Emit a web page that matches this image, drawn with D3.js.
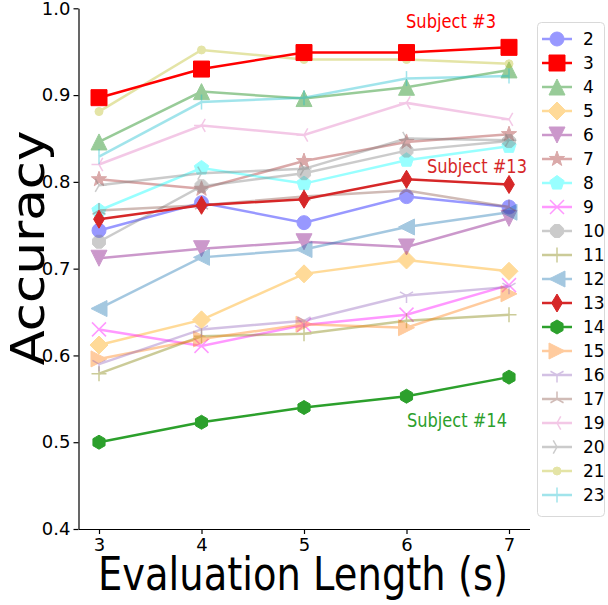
<!DOCTYPE html>
<html>
<head>
<meta charset="utf-8">
<script src="https://cdn.jsdelivr.net/npm/d3@7"></script>
<style>
  body { margin: 0; background: #fff; }
  text { font-family: "DejaVu Sans", sans-serif; }
</style>
</head>
<body>
<div id="chart"></div>
<script>
// accuracy per subject over evaluation lengths

const lengths = [3, 4, 5, 6, 7];
const subjects = ["2", "3", "4", "5", "6", "7", "8", "9", "10", "11", "12", "13", "14", "15", "16", "17", "19", "20", "21", "23"];

const accuracy = {
    "2":  [0.744, 0.776, 0.753, 0.783, 0.771],
    "3":  [0.897, 0.930, 0.949, 0.949, 0.955],
    "4":  [0.846, 0.904, 0.896, 0.909, 0.929],
    "5":  [0.612, 0.641, 0.694, 0.710, 0.697],
    "6":  [0.712, 0.723, 0.731, 0.725, 0.758],
    "7":  [0.803, 0.792, 0.824, 0.846, 0.855],
    "8":  [0.767, 0.816, 0.798, 0.825, 0.841],
    "9":  [0.630, 0.611, 0.635, 0.647, 0.681],
    "10": [0.731, 0.795, 0.810, 0.836, 0.847],
    "11": [0.579, 0.622, 0.625, 0.640, 0.647],
    "12": [0.654, 0.713, 0.722, 0.748, 0.765],
    "13": [0.757, 0.773, 0.780, 0.803, 0.797],
    "14": [0.500, 0.523, 0.540, 0.553, 0.575],
    "15": [0.596, 0.619, 0.636, 0.632, 0.671],
    "16": [0.590, 0.630, 0.640, 0.669, 0.679],
    "17": [0.767, 0.773, 0.783, 0.790, 0.771],
    "19": [0.820, 0.865, 0.854, 0.891, 0.872],
    "20": [0.796, 0.810, 0.815, 0.850, 0.848],
    "21": [0.881, 0.952, 0.941, 0.941, 0.936],
    "23": [0.829, 0.892, 0.897, 0.919, 0.922]
};

const colors = ["#0000ff", "#ff0000", "#008000", "#ffa500", "#800080", "#a52a2a", "#00ffff", "#ff00ff", "#808080", "#808000",
                "#1f77b4", "#d62728", "#2ca02c", "#ff7f0e", "#9467bd", "#8c564b", "#e377c2", "#7f7f7f", "#bcbd22", "#17becf"];
const markers = ["o", "s", "^", "D", "v", "*", "p", "x", "8", "+", "<", "d", "h", ">", "1", "2", "3", "4", ".", "|"];
const highlighted = ["3", "13", "14"];

const yTicks = [0.4, 0.5, 0.6, 0.7, 0.8, 0.9, 1.0];

const notes = [
    {text: "Subject #3", subject: "3", x: 451, y: 28, w: 90},
    {text: "Subject #13", subject: "13", x: 477, y: 173, w: 100},
    {text: "Subject #14", subject: "14", x: 457, y: 427, w: 100}
];

const width = 608, height = 605;

const svg = d3.select("#chart").append("svg")
    .attr("width", width)
    .attr("height", height);

const x = d3.scaleLinear().domain([2.8, 7.2]).range([78.5, 529.5]);
const y = d3.scaleLinear().domain([0.4, 1.0]).range([529, 8.3]);

// marker shapes, sizes in px
const markerSize = {"o": 14, "s": 16, "^": 16, "D": 18, "v": 16, "*": 16, "p": 15, "x": 14, "8": 14, "+": 15,
                    "<": 16, "d": 18, "h": 14, ">": 16, "1": 15, "2": 15, "3": 15, "4": 15, ".": 8, "|": 15};
const lineMarkers = ["x", "+", "1", "2", "3", "4", "|"];

function polygon(n, r, rot) {
    const pts = d3.range(n).map(i => {
        const a = rot + i * 2 * Math.PI / n;
        return [r * Math.sin(a), -r * Math.cos(a)];
    });
    return "M" + pts.map(p => p.join(",")).join("L") + "Z";
}

function markerPath(m) {
    const s = markerSize[m], h = s / 2;
    switch (m) {
        case "o": case ".":
            return `M${-h},0A${h},${h} 0 1,0 ${h},0A${h},${h} 0 1,0 ${-h},0Z`;
        case "s": return `M${-h},${-h}H${h}V${h}H${-h}Z`;
        case "^": return `M0,${-h}L${h},${h}L${-h},${h}Z`;
        case "v": return `M0,${h}L${h},${-h}L${-h},${-h}Z`;
        case "<": return `M${-h},0L${h},${-h}L${h},${h}Z`;
        case ">": return `M${h},0L${-h},${-h}L${-h},${h}Z`;
        case "D": return `M0,${-h}L${h},0L0,${h}L${-h},0Z`;
        case "d": return `M0,${-h}L${h * 0.6},0L0,${h}L${-h * 0.6},0Z`;
        case "p": return polygon(5, h, 0);
        case "h": return polygon(6, h, 0);
        case "8": return polygon(8, h, Math.PI / 8);
        case "*": {
            const pts = d3.range(10).map(i => {
                const r = i % 2 ? h * 0.4 : h;
                const a = i * Math.PI / 5;
                return [r * Math.sin(a), -r * Math.cos(a)];
            });
            return "M" + pts.map(p => p.join(",")).join("L") + "Z";
        }
        case "x": return `M${-h},${-h}L${h},${h}M${-h},${h}L${h},${-h}`;
        case "+": return `M${-h},0H${h}M0,${-h}V${h}`;
        case "|": return `M0,${-h}V${h}`;
        case "1": return `M0,0V${h}M0,0L${-h * 0.87},${-h * 0.5}M0,0L${h * 0.87},${-h * 0.5}`;
        case "2": return `M0,0V${-h}M0,0L${-h * 0.87},${h * 0.5}M0,0L${h * 0.87},${h * 0.5}`;
        case "3": return `M0,0H${-h}M0,0L${h * 0.5},${-h * 0.87}M0,0L${h * 0.5},${h * 0.87}`;
        case "4": return `M0,0H${h}M0,0L${-h * 0.5},${-h * 0.87}M0,0L${-h * 0.5},${h * 0.87}`;
    }
}

function drawMarker(g, m, color) {
    const p = g.append("path").attr("d", markerPath(m));
    if (lineMarkers.includes(m)) {
        p.attr("fill", "none").attr("stroke", color).attr("stroke-width", 1.5);
    } else {
        p.attr("fill", color).attr("stroke", color).attr("stroke-width", 1);
    }
}

// axes
const yAxis = svg.append("g")
    .attr("transform", `translate(${x.range()[0]},0)`)
    .call(d3.axisLeft(y).tickValues(yTicks).tickFormat(d3.format(".1f")).tickSize(5).tickSizeOuter(0));

const xAxis = svg.append("g")
    .attr("transform", `translate(0,${y.range()[0]})`)
    .call(d3.axisBottom(x).tickValues(lengths).tickFormat(d3.format("d")).tickSize(5).tickSizeOuter(0));

svg.selectAll(".tick text")
    .style("font-size", "18px")
    .attr("fill", "#000");
yAxis.selectAll(".tick text").attr("x", -8);
xAxis.selectAll(".tick text").attr("y", 9);
svg.selectAll(".domain, .tick line").attr("stroke", "#000").attr("stroke-width", 1.2);

svg.append("text")
    .attr("transform", "translate(44,248) rotate(-90)")
    .attr("text-anchor", "middle")
    .attr("textLength", 235)
    .attr("lengthAdjust", "spacingAndGlyphs")
    .style("font-size", "46px")
    .text("Accuracy");

svg.append("text")
    .attr("x", 303)
    .attr("y", 590)
    .attr("text-anchor", "middle")
    .attr("textLength", 410)
    .attr("lengthAdjust", "spacingAndGlyphs")
    .style("font-size", "46px")
    .text("Evaluation Length (s)");

// series: faded ones first, highlighted on top
const order = subjects.filter(s => !highlighted.includes(s)).concat(highlighted);
const line = d3.line().x((d, i) => x(lengths[i])).y(d => y(d));

order.forEach(s => {
    const i = subjects.indexOf(s);
    const g = svg.append("g")
        .attr("opacity", highlighted.includes(s) ? 1 : 0.4);
    g.append("path")
        .attr("d", line(accuracy[s]))
        .attr("fill", "none")
        .attr("stroke", colors[i])
        .attr("stroke-width", 2.5);
    accuracy[s].forEach((v, j) => {
        const mg = g.append("g").attr("transform", `translate(${x(lengths[j])},${y(v)})`);
        drawMarker(mg, markers[i], colors[i]);
    });
});

// annotations
notes.forEach(n => {
    svg.append("text")
        .attr("x", n.x)
        .attr("y", n.y)
        .attr("text-anchor", "middle")
        .attr("textLength", n.w)
        .attr("lengthAdjust", "spacingAndGlyphs")
        .attr("fill", colors[subjects.indexOf(n.subject)])
        .style("font-size", "20px")
        .text(n.text);
});

// legend
const legend = svg.append("g");
legend.append("rect")
    .attr("x", 537.5).attr("y", 22.5)
    .attr("width", 67).attr("height", 494)
    .attr("rx", 4)
    .attr("fill", "#fff")
    .attr("fill-opacity", 0.8)
    .attr("stroke", "#d9d9d9");

const ly = d3.scalePoint().domain(subjects).range([39, 495]);

subjects.forEach((s, i) => {
    const g = legend.append("g")
        .attr("transform", `translate(0,${ly(s)})`);
    const item = g.append("g").attr("opacity", highlighted.includes(s) ? 1 : 0.4);
    item.append("line")
        .attr("x1", 542).attr("x2", 572)
        .attr("stroke", colors[i])
        .attr("stroke-width", 2.5);
    const mg = item.append("g").attr("transform", "translate(557,0)");
    drawMarker(mg, markers[i], colors[i]);
    g.append("text")
        .attr("x", 583)
        .attr("y", 6)
        .style("font-size", "17px")
        .text(s);
});
</script>
</body>
</html>
